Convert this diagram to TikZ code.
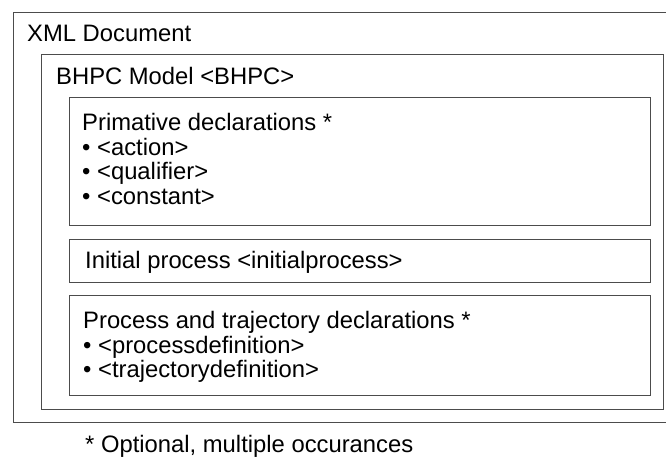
\documentclass[tikz,border=0pt]{standalone}
\usepackage{fontspec}
\setmainfont{Liberation Sans}
\usetikzlibrary{positioning}
\tikzset{
  box/.style={draw=black!70, line width=1.2pt, rectangle, inner sep=0pt, anchor=north west},
  boxtext/.style={font=\fontsize{23.8}{25}\selectfont, inner sep=0pt, anchor=base west},
}
\begin{document}
\begin{tikzpicture}[x=1pt,y=-1pt]
\useasboundingbox (0,0) rectangle (666,457);
% Nested frames
\node[box, minimum width=670pt, minimum height=410pt] (doc) at (13,12) {};
\node[box, minimum width=622pt, minimum height=355pt] (model) at (41,54) {};
\node[box, minimum width=581pt, minimum height=128pt] (prim) at (69,97) {};
\node[box, minimum width=581pt, minimum height=43pt] (init) at (69,239) {};
\node[box, minimum width=581pt, minimum height=100pt] (proc) at (69,295) {};
% Frame titles
\node[boxtext] (doctitle) at (27,41.5) {XML Document};
\node[boxtext] (modeltitle) at (56,84.5) {BHPC Model <BHPC>};
\node[boxtext] (primhead) at (82,130.5) {Primative declarations *};
\foreach \t [count=\i] in {action,qualifier,constant}
  \node[boxtext] (prim\i) at ([yshift={-\i*24.7pt}]primhead.base west) {• <\t>};
\node[boxtext] (inithead) at (85,268.5) {Initial process <initialprocess>};
\node[boxtext] (prochead) at (83,328.5) {Process and trajectory declarations *};
\foreach \t [count=\i] in {processdefinition,trajectorydefinition}
  \node[boxtext] (proc\i) at ([yshift={-\i*24.7pt}]prochead.base west) {• <\t>};
% Footnote
\node[boxtext] (note) at (85,452.5) {* Optional, multiple occurances};
\end{tikzpicture}
\end{document}
